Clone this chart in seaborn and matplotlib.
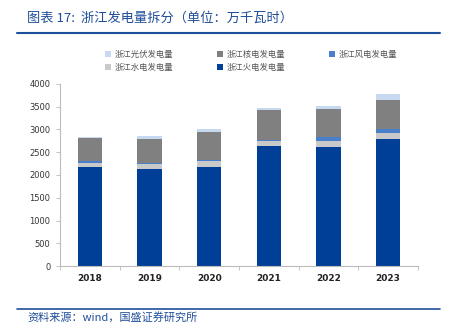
import numpy as np
import pandas as pd
import matplotlib
matplotlib.use("Agg")
import matplotlib.pyplot as plt
import seaborn as sns
from matplotlib.lines import Line2D
from matplotlib.patches import Patch

years = ["2018", "2019", "2020", "2021", "2022", "2023"]
thermal = [2169, 2125, 2183, 2630, 2615, 2791]
hydro = [102, 117, 125, 125, 132, 132]
wind = [30, 29, 29, 22, 81, 81]
nuclear = [505, 527, 615, 652, 615, 644]
solar = [22, 52, 59, 51, 66, 132]

names = ["浙江火电发电量", "浙江水电发电量", "浙江风电发电量", "浙江核电发电量", "浙江光伏发电量"]
colors = ["#003F98", "#C9C9C9", "#4A7FCB", "#808080", "#C6D9F1"]
series = [thermal, hydro, wind, nuclear, solar]
yticks = [0, 500, 1000, 1500, 2000, 2500, 3000, 3500, 4000]

sns.set_theme(style="white")
plt.rcParams['font.family'] = ['Noto Sans CJK SC', 'DejaVu Sans']

fig = plt.figure(figsize=(4.51, 3.29), dpi=100)
ax = fig.add_axes([60/451, (329-266)/329, (418-60)/451, (266-84)/329])

bottom = np.zeros(len(years))
for name, col, vals in zip(names, colors, series):
    df = pd.DataFrame({"year": years, "val": vals})
    sns.barplot(data=df, x="year", y="val", order=years, color=col,
                bottom=bottom, width=0.41, ax=ax, saturation=1, errorbar=None,
                edgecolor="none", linewidth=0)
    bottom = bottom + np.array(vals)

ax.set_ylim(0, 4000)
ax.set_xlim(-0.5, 5.5)
ax.set_yticks(yticks)
ax.set_yticklabels([str(v) for v in yticks], fontsize=6, color="#333333", family="DejaVu Sans")
ax.set_xticks(range(len(years)))
ax.set_xticklabels(years, fontsize=6.5, color="#222222", fontweight="bold", family="DejaVu Sans")
ax.set_xlabel("")
ax.set_ylabel("")
for s in ["top", "right"]:
    ax.spines[s].set_visible(False)
for s in ["left", "bottom"]:
    ax.spines[s].set_color("#BBBBBB")
    ax.spines[s].set_linewidth(0.8)
ax.tick_params(axis="y", length=3, width=0.6, color="#BBBBBB", direction="out", left=True, pad=4)
ax.tick_params(axis="x", length=0, pad=6)
ax.set_xticks(np.arange(-0.5, 6.0, 1.0), minor=True)
ax.tick_params(axis="x", which="minor", length=3, width=0.6, color="#BBBBBB", bottom=True)

# legend
order = [4, 1, 3, 0, 2]
hs = [Patch(facecolor=colors[i], edgecolor="none") for i in order]
ls = [names[i] for i in order]
leg = fig.legend(hs, ls, ncol=3, loc="center", bbox_to_anchor=(0.557, 1 - 61/329),
                 frameon=False, fontsize=6, handlelength=0.7, handleheight=0.7,
                 columnspacing=5.3, labelspacing=0.45, handletextpad=0.4)
for t in leg.get_texts():
    t.set_color("#555555")

# title
fig.text(27/451, 1 - 18/329, "图表 17:  浙江发电量拆分（单位：万千瓦时）", fontsize=9.5,
         color="#1F4E9A", va="center", ha="left", style="italic")
fig.add_artist(Line2D([17/451, 440/451], [1 - 33/329, 1 - 33/329], color="#1F4E9A", lw=1.5))
fig.add_artist(Line2D([17/451, 440/451], [1 - 309/329, 1 - 309/329], color="#1F4E9A", lw=1.2))
fig.text(27/451, 1 - 317/329, "资料来源：wind，国盛证券研究所", fontsize=8,
         color="#1F4E9A", va="center", ha="left", style="italic")

fig.savefig("out.png", dpi=100)
